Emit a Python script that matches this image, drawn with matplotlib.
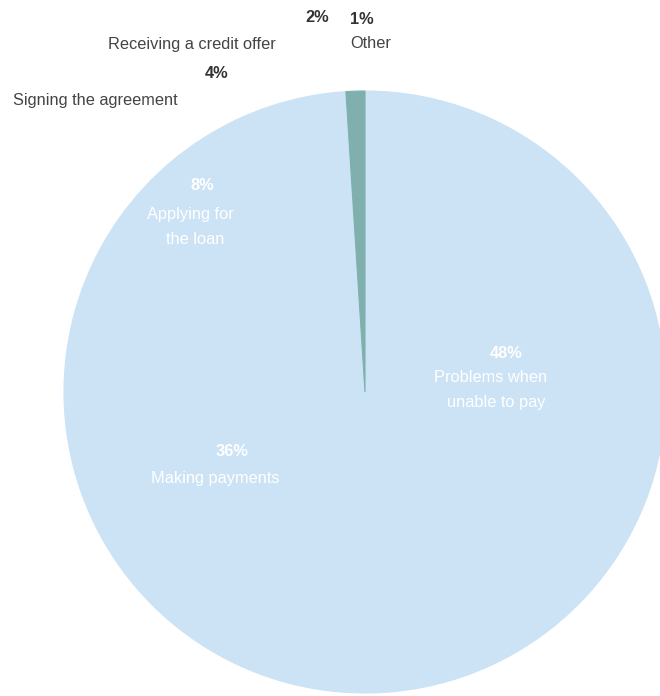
import matplotlib.pyplot as plt

# Datos del gráfico
categorias = ["Problems when unable to pay", "Making payments", "Applying for the loan",
              "Signing the agreement", "Receiving a credit offer", "Other"]
porcentajes = [48, 36, 8, 4, 2, 1]
colores = ["#cce3f5", "#cce3f5", "#cce3f5", "#cce3f5", "#cce3f5", "#7fb0ad"]

# Etiquetas como se ven en la imagen (líneas del nombre)
lineas = [["Problems when", "unable to pay"], ["Making payments"], ["Applying for", "the loan"],
          ["Signing the agreement"], ["Receiving a credit offer"], ["Other"]]

plt.rcParams["font.family"] = ["Liberation Sans", "DejaVu Sans"]

W, H = 660, 696
fig = plt.figure(figsize=(W / 100, H / 100), dpi=100)
ax = fig.add_axes([0, 0, 1, 1])

# Pastel: centro y radio en píxeles (eje y invertido, así que el sentido se invierte)
cx, cy, r = 365, 392, 301
cunas, _ = ax.pie(porcentajes, colors=colores, startangle=-90, counterclock=True,
                  center=(cx, cy), radius=r, frame=True)
# Sin costuras entre las cuñas del mismo color
for cuna in cunas:
    cuna.set_edgecolor(cuna.get_facecolor())
    cuna.set_linewidth(0.8)
ax.set_xlim(0, W)
ax.set_ylim(H, 0)
ax.set_aspect("equal")
ax.axis("off")

# Posiciones de las etiquetas (pixeles): porcentaje, luego cada línea del nombre
pos_pct = [(506, 353), (232, 451), (202, 186), (217, 73), (317, 18), (362, 20)]
pos_nom = [[(491, 377), (496, 402)], [(215, 478)], [(190, 214), (195, 239)],
           [(95, 100)], [(192, 44)], [(371, 44)]]
dentro = [True, True, True, False, False, False]

fs = 11.8
for i in range(len(categorias)):
    c_pct = "white" if dentro[i] else "#333333"
    c_nom = "white" if dentro[i] else "#444444"
    x, y = pos_pct[i]
    ax.text(x, y, f"{porcentajes[i]}%", ha="center", va="center",
            fontsize=fs, fontweight="bold", color=c_pct)
    for texto, (x, y) in zip(lineas[i], pos_nom[i]):
        ax.text(x, y, texto, ha="center", va="center", fontsize=fs, color=c_nom)

fig.savefig("out.png", dpi=100)
